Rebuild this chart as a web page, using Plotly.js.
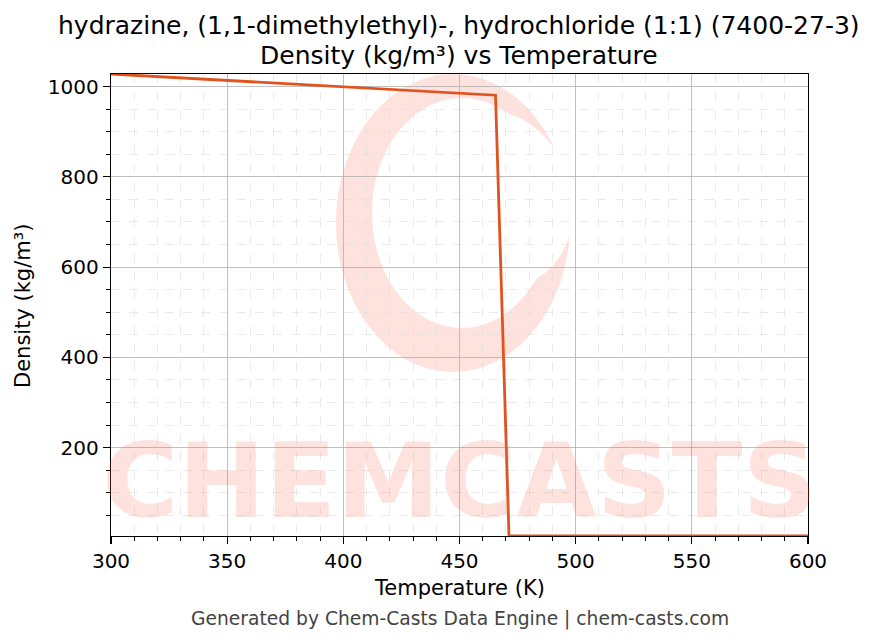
<!DOCTYPE html>
<html>
<head>
<meta charset="utf-8">
<script src="https://cdn.plot.ly/plotly-3.0.1.min.js"></script>
<style>html,body{margin:0;padding:0;background:#fff;}#chart{width:876px;height:644px;}</style>
</head>
<body>
<div id="chart"></div>
<script>
// Data
const temperatureK = [300, 465.5, 471.3, 600];
const densityKgM3 = [1028, 981, 4, 4];

const titleLine1 = "hydrazine, (1,1-dimethylethyl)-, hydrochloride (1:1) (7400-27-3)";
const titleLine2 = "Density (kg/m³) vs Temperature";
const xTitle = "Temperature (K)";
const yTitle = "Density (kg/m³)";
const footer = "Generated by Chem-Casts Data Engine | chem-casts.com";

const font = "DejaVu Sans, sans-serif";
const wm = "rgba(245,110,90,0.2)";

const trace = {
  x: temperatureK, y: densityKgM3, type: "scatter", mode: "lines",
  line: {color: "#E0531F", width: 2.8}, hoverinfo: "skip", showlegend: false
};

const axisCommon = {
  showline: true, mirror: true, linecolor: "#000", linewidth: 1.3,
  ticks: "outside", ticklen: 7, tickwidth: 1.2, tickcolor: "#000",
  showgrid: true, gridcolor: "#b0b0b0", gridwidth: 0.8,
  zeroline: false, tickfont: {family: font, size: 20, color: "#000"},
};

// plot area pixel geometry: left 111, right 808, top 74, bottom 536
const PL = 111, PW = 697, PT = 74, PH = 462;
const px = X => (X - PL) / PW;
const py = Y => (PT + PH - Y) / PH;

// decorative watermark logo (brush-stroke "C" ring), built in pixel space
function logoPath() {
  const oc = [453, 223], orad = [117, 149];
  const ic = [462, 213], irad = [90, 115];
  const t1 = 30, t2 = 355, taper = 30, n = 80;
  const outer = [], inner = [];
  for (let i = 0; i <= n; i++) {
    const t = t1 + (t2 - t1) * i / n, r = t * Math.PI / 180;
    const O = [oc[0] + orad[0] * Math.cos(r), oc[1] - orad[1] * Math.sin(r)];
    const I = [ic[0] + irad[0] * Math.cos(r), ic[1] - irad[1] * Math.sin(r)];
    const f = Math.min(1, (t - t1) / taper, (t2 - t) / taper);
    outer.push(O);
    inner.push([O[0] + f * (I[0] - O[0]), O[1] + f * (I[1] - O[1])]);
  }
  const pts = outer.concat(inner.reverse());
  return pts.map((p, i) => (i ? "L" : "M") + px(p[0]).toFixed(5) + "," + py(p[1]).toFixed(5)).join(" ") + " Z";
}

const layout = {
  width: 876, height: 644,
  paper_bgcolor: "#fff", plot_bgcolor: "rgba(0,0,0,0)",
  margin: {l: PL, r: 876 - PL - PW, t: PT, b: 644 - PT - PH},
  font: {family: font, color: "#000"},
  xaxis: Object.assign({}, axisCommon, {
    range: [300, 600], dtick: 50, tick0: 300,
    minor: {dtick: 10, ticks: "outside", ticklen: 4, tickwidth: 1, tickcolor: "#000", showgrid: true, gridcolor: "#dedede", gridwidth: 0.6, griddash: "dash"}
  }),
  yaxis: Object.assign({}, axisCommon, {
    range: [4, 1028], dtick: 200, tick0: 0,
    minor: {dtick: 50, ticks: "outside", ticklen: 4, tickwidth: 1, tickcolor: "#000", showgrid: true, gridcolor: "#dedede", gridwidth: 0.6, griddash: "dash"}
  }),
  shapes: [
    {type: "path", xref: "paper", yref: "paper", path: logoPath(), fillcolor: wm, line: {width: 0}, layer: "below"}
  ],
  annotations: [
    {text: "<b>CHEMCASTS</b>", xref: "paper", yref: "paper", x: px(459), y: py(481), xanchor: "center", yanchor: "middle",
     showarrow: false, font: {family: font, size: 104, color: wm}},
    {text: titleLine1, xref: "paper", yref: "paper", x: px(459), y: py(25), xanchor: "center", yanchor: "middle",
     showarrow: false, borderpad: 0, font: {family: font, size: 25, color: "#000"}},
    {text: titleLine2, xref: "paper", yref: "paper", x: px(459), y: py(55), xanchor: "center", yanchor: "middle",
     showarrow: false, borderpad: 0, font: {family: font, size: 25, color: "#000"}},
    {text: xTitle, xref: "paper", yref: "paper", x: px(459), y: py(588), xanchor: "center", yanchor: "middle",
     showarrow: false, font: {family: font, size: 21, color: "#000"}},
    {text: yTitle, xref: "paper", yref: "paper", x: px(23), y: py(306), xanchor: "center", yanchor: "middle",
     textangle: -90, showarrow: false, font: {family: font, size: 21, color: "#000"}},
    {text: footer, xref: "paper", yref: "paper", x: px(460), y: py(619), xanchor: "center", yanchor: "middle",
     showarrow: false, font: {family: font, size: 18.7, color: "#444"}}
  ]
};

Plotly.newPlot("chart", [trace], layout, {displayModeBar: false, staticPlot: true});
</script>
</body>
</html>
